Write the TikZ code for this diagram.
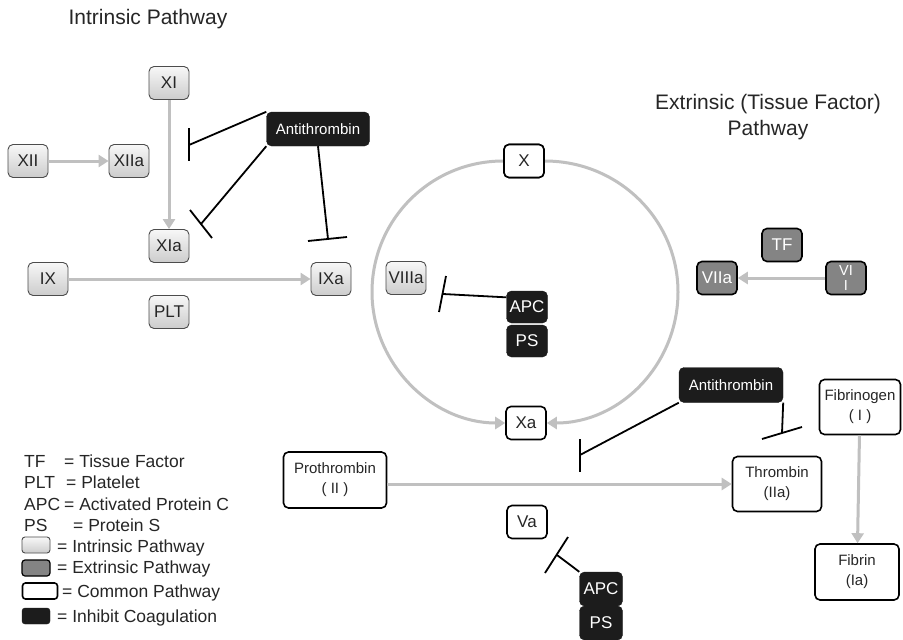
\documentclass[tikz,border=0pt]{standalone}
\usepackage{fontspec}
\setmainfont{Liberation Sans}
\usetikzlibrary{arrows.meta,positioning}
\definecolor{actgray}{RGB}{192,192,192}
\definecolor{extgray}{RGB}{132,132,132}
\definecolor{inhblack}{RGB}{28,28,28}
\newcommand{\fsz}[2]{\fontsize{#1}{#2}\selectfont}
\tikzset{
  box/.style={rounded corners=5pt,minimum width=40pt,minimum height=33pt,inner sep=1pt,font=\fsz{17}{19},text=black!85},
  intr/.style={box,draw=black!70,line width=0.9pt,top color=gray!6,bottom color=gray!40},
  extr/.style={box,draw=black,line width=1.6pt,fill=extgray,text=white},
  comm/.style={box,draw=black,line width=1.6pt,fill=white},
  twoline/.style={comm,align=center,font=\fsz{15}{20}},
  inhib/.style={box,draw=inhblack,fill=inhblack,text=white},
  act/.style={draw=actgray,line width=3pt,-{Triangle[width=12pt,length=10pt]}},
  inh/.style={draw=black,line width=1.8pt},
  inhbar/.style={draw=black,line width=1.8pt,line cap=butt},
  title/.style={font=\fsz{21}{26},text=black!85,align=center},
  legtxt/.style={font=\fsz{17.5}{20},text=black!85,anchor=base west,inner sep=0pt},
  swatch/.style={minimum width=28pt,minimum height=16pt,rounded corners=3pt,inner sep=0pt}
}
\begin{document}
\begin{tikzpicture}[x=1pt,y=-1pt]
  \useasboundingbox[fill=white] (0,0) rectangle (903,640);
  \node[title] (tin) at (148,19) {Intrinsic Pathway};
  \node[title] (tex) at (768,117) {Extrinsic (Tissue Factor)\\Pathway};

  \node[intr] (xi) at (169,83) {XI};
  \node[intr] (xii) at (28,161) {XII};
  \node[intr] (xiia) at (129,161) {XIIa};
  \node[intr] (xia) at (169,246) {XIa};
  \node[intr] (ix) at (48,279) {IX};
  \node[intr] (ixa) at (331,279) {IXa};
  \node[intr] (plt) at (169,312) {PLT};
  \node[intr] (viiia) at (406,278) {VIIIa};
  \node[inhib,minimum width=103pt,minimum height=34pt,font=\fsz{15}{18}] (at1) at (318,129) {Antithrombin};

  \node[extr] (tf) at (782,245) {TF};
  \node[extr] (viia) at (717,278) {VIIa};
  \node[extr,align=center,inner sep=0pt,font=\fsz{14.5}{15}] (vii) at (846,278) {VI\\I};

  \draw[act] (xii) -- (xiia);
  \draw[act] (xi) -- (xia);
  \draw[act] (ix) -- (ixa);
  \draw[act] (vii) -- (viia);

  \node[comm] (xn) at (524,161) {X};
  \node[comm] (xa) at (526,423) {Xa};
  \draw[act] (xn.west) .. controls +(-73,0) and +(0,-72) .. (372,292) .. controls +(0,72) and +(-73,0) .. (xa.west);
  \draw[act] (xn.east) .. controls +(74,0) and +(0,-72) .. (678,292) .. controls +(0,72) and +(74,0) .. (xa.east);
  \node[comm] (xn) at (524,161) {X};
  \node[inhib,minimum width=41pt,minimum height=32pt] (apc1) at (527,307) {APC};
  \node[inhib,minimum width=41pt,minimum height=32pt] (ps1) at (527,341) {PS};

  \node[twoline,minimum width=103pt,minimum height=56pt] (pro) at (335,480) {Prothrombin\\( II )};
  \node[twoline,minimum width=89pt,minimum height=55pt] (thr) at (777,484) {Thrombin\\(IIa)};
  \node[twoline,minimum width=81pt,minimum height=55pt] (fbg) at (860,407) {Fibrinogen\\( I )};
  \node[twoline,minimum width=84pt,minimum height=56pt] (fib) at (857,572) {Fibrin\\(Ia)};
  \node[inhib,minimum width=104pt,minimum height=35pt,font=\fsz{15}{18}] (at2) at (731,385) {Antithrombin};
  \node[comm] (va) at (527,522) {Va};
  \node[inhib,minimum width=43pt,minimum height=34pt] (apc2) at (601,589) {APC};
  \node[inhib,minimum width=43pt,minimum height=34pt] (ps2) at (601,623) {PS};

  \draw[act] (pro.east |- thr.west) -- (thr.west);
  \draw[act] (fbg) -- (fib);

  \coordinate (b1) at (189,145);
  \coordinate (b2) at (201,224);
  \coordinate (b3) at (328,239);
  \coordinate (b4) at (443,294);
  \coordinate (b5) at (580,455);
  \coordinate (b6) at (782,433);
  \coordinate (b7) at (557,555);
  \draw[inh] (at1.north west) -- (b1);
  \draw[inh] (at1.south west) -- (b2);
  \draw[inh] (at1.south) -- (b3);
  \draw[inh] (apc1.155) -- (b4);
  \draw[inh] (at2.south west) -- (b5);
  \draw[inh] (at2.south east) -- (b6);
  \draw[inh] (apc2.north west) -- (b7);
  \foreach \xa/\ya/\xb/\yb in {189/128/189/161, 190/210/212/238, 308/241/347/237, 446/276/439/312,
    580/439/580/472, 762/439/802/427, 568/537/545/573}
    \draw[inhbar] (\xa,\ya) -- (\xb,\yb);

  \node[legtxt] (lg1) at (24,467) {TF};
  \node[legtxt] (lg1t) at (64,467) {= Tissue Factor};
  \node[legtxt] (lg2) at (24,488) {PLT};
  \node[legtxt] (lg2t) at (66,488) {= Platelet};
  \node[legtxt] (lg3) at (24,510) {APC};
  \node[legtxt] (lg3t) at (64,510) {= Activated Protein C};
  \node[legtxt] (lg4) at (24,531) {PS};
  \node[legtxt] (lg4t) at (73,531) {= Protein S};
  \node[intr,swatch] (sw1) at (36,545) {};
  \node[legtxt] (lg5t) at (57,552) {= Intrinsic Pathway};
  \node[extr,swatch,line width=1.2pt] (sw2) at (36,568) {};
  \node[legtxt] (lg6t) at (57,573) {= Extrinsic Pathway};
  \node[comm,swatch,minimum width=35pt] (sw3) at (40,591) {};
  \node[legtxt] (lg7t) at (62,597) {= Common Pathway};
  \node[inhib,swatch] (sw4) at (36,616) {};
  \node[legtxt] (lg8t) at (57,622) {= Inhibit Coagulation};
\end{tikzpicture}
\end{document}
